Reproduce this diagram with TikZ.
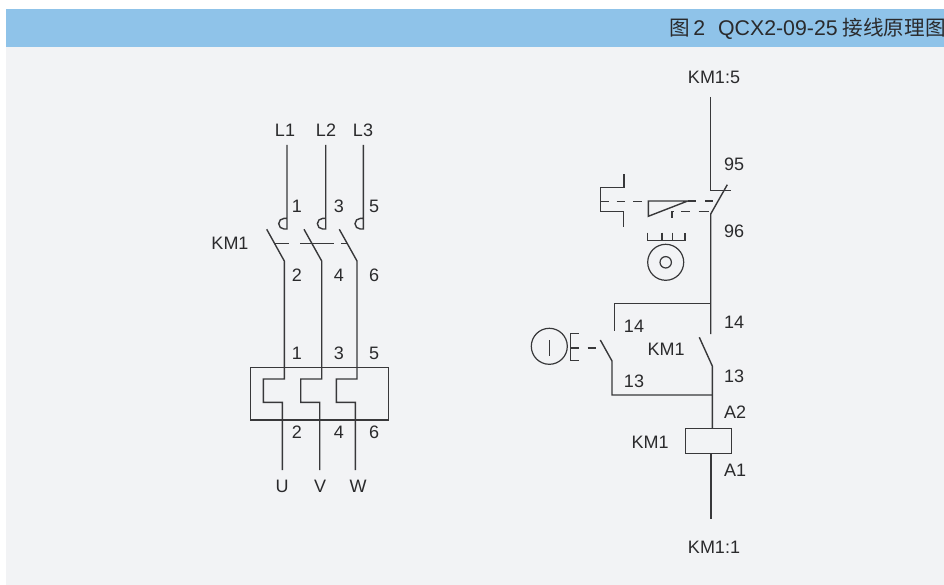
\documentclass[tikz,border=0pt]{standalone}
\usepackage{fontspec}
\setmainfont{Liberation Sans}
\newfontfamily\cjkfont{Noto Sans CJK SC}
\definecolor{bgc}{HTML}{F2F3F5}
\definecolor{bandc}{HTML}{8FC3E9}
\definecolor{inkc}{HTML}{38383A}
\definecolor{txtc}{HTML}{2A2A2C}
\tikzset{
  wire/.style={draw=inkc,line width=1.4pt,line join=miter},
  thin wire/.style={draw=inkc,line width=1.2pt},
  lbl/.style={text=txtc,font=\fontsize{18}{20}\selectfont,inner sep=0pt,anchor=center},
}
\newcommand{\cjkbit}[1]{{\cjkfont\fontsize{20.6}{24}\selectfont #1}}
\begin{document}
\begin{tikzpicture}[x=1pt,y=-1pt]
\useasboundingbox (0,0) rectangle (944,585);
\fill[white] (0,0) rectangle (944,585);
\fill[bgc] (6,47) rectangle (944,585);
\fill[bandc] (6,9) rectangle (944,47);
\node[text=txtc,inner sep=0pt,anchor=west,font=\fontsize{21.3}{24}\selectfont] (title) at (669.5,28.5) {\cjkbit{图}\hspace{3pt}2\hspace{13pt}QCX2-09-25\hspace{5pt}\cjkbit{接线原理图}};

% --- main circuit, three poles
\draw[wire] (287,145) -- (287,229) -- (284,229) arc[start angle=90,end angle=270,radius=5.3] -- (287,218.4);
\draw[wire] (325.7,145) -- (325.7,229) -- (322.7,229) arc[start angle=90,end angle=270,radius=5.3] -- (325.7,218.4);
\draw[wire] (363.3,145) -- (363.3,229) -- (360.3,229) arc[start angle=90,end angle=270,radius=5.3] -- (363.3,218.4);
\draw[wire] (266.7,229.3) -- (284.3,261) -- (284.3,379) -- (263.3,379) -- (263.3,402.3) -- (282.3,402.3) -- (282.3,470);
\draw[wire] (304,229.3) -- (321.7,261) -- (321.7,379) -- (300.7,379) -- (300.7,402.3) -- (319.7,402.3) -- (319.7,470);
\draw[wire] (339.3,229.3) -- (357,261) -- (357,379) -- (336.3,379) -- (336.3,402.3) -- (355.3,402.3) -- (355.3,470);
\draw[wire] (274,243.3) -- (289,243.3) (300,243.3) -- (333.7,243.3) (341.3,243.3) -- (347,243.3);
\draw[wire] (250.7,367.7) rectangle (388.7,420);

% --- control circuit
\draw[wire] (710.5,97) -- (710.5,190.7) -- (731.3,190.7);
\draw[wire] (727.3,184.7) -- (710.7,214) -- (710.7,334);
\draw[wire] (710.7,303.7) -- (614.7,303.7) -- (614.7,330.7);
\draw[wire] (699.3,337.3) -- (712.3,366) -- (712.3,428.3);
\draw[wire] (712.3,395) -- (612,395) -- (612,361) -- (600.3,340);
\draw[wire] (587.7,348) -- (595.7,348);
\draw[wire] (578.7,333.7) -- (570.7,333.7) -- (570.7,360.3) -- (578.7,360.3) (570.7,348) -- (578.7,348);
\draw[thin wire] (549.3,346.3) circle[radius=18];
\draw[thin wire] (549.7,340) -- (549.7,356);
\draw[wire] (685.7,428.3) rectangle (731.7,453.3);
\draw[wire] (711,453.3) -- (711,519);

% --- thermal relay
\draw[wire] (624,174.3) -- (624,187.7) -- (600.7,187.7) -- (600.7,211.7) -- (623.3,211.7) -- (623.3,227.3);
\draw[wire] (600.7,201.3) -- (609,201.3) (616.7,201.3) -- (625,201.3) (633.3,201.3) -- (641.7,201.3);
\draw[wire] (648.3,201) -- (648.3,216.3) -- (687.7,201) -- cycle;
\draw[wire] (687.7,201) -- (695.7,201) (705,201) -- (713.3,201);
\draw[wire] (681,211.7) -- (690,211.7) (698.7,211.7) -- (709.3,211.7);
\draw[wire] (672,217.7) -- (672,211.7) -- (674,211.7);
\draw[thin wire] (647.7,232.7) -- (647.7,240.3) -- (685,240.3) -- (685,232.7) (662,232.7) -- (662,240.3) (672.3,232.7) -- (672.3,240.3);
\draw[thin wire] (665.7,262.3) circle[radius=18];
\draw[thin wire] (665.7,262.3) circle[radius=5.7];

% --- labels
\foreach \n/\x/\y/\t in {a/285/130/L1,b/326/130/L2,c/363/130/L3,
  d/297/206/1,e/339/206/3,f/374/206/5,g/230/243/KM1,
  h/297/275/2,i/339/275/4,j/374/275/6,
  k/297/353/1,l/339/353/3,m/374/353/5,
  n/297/432/2,o/339/432/4,p/374/432/6,
  q/282/486/U,r/320/486/V,s/358/486/W,
  t/714/77/KM1:5,u/734/164/95,v/734/231/96,
  w/634/326/14,x/734/322/14,y/666/349/KM1,
  z/634/381/13,aa/734/376/13,ab/735/412/A2,
  ac/650/442/KM1,ad/735/470/A1,ae/714/547/KM1:1}
  \node[lbl] (lab\n) at (\x,\y) {\t};
\end{tikzpicture}
\end{document}
